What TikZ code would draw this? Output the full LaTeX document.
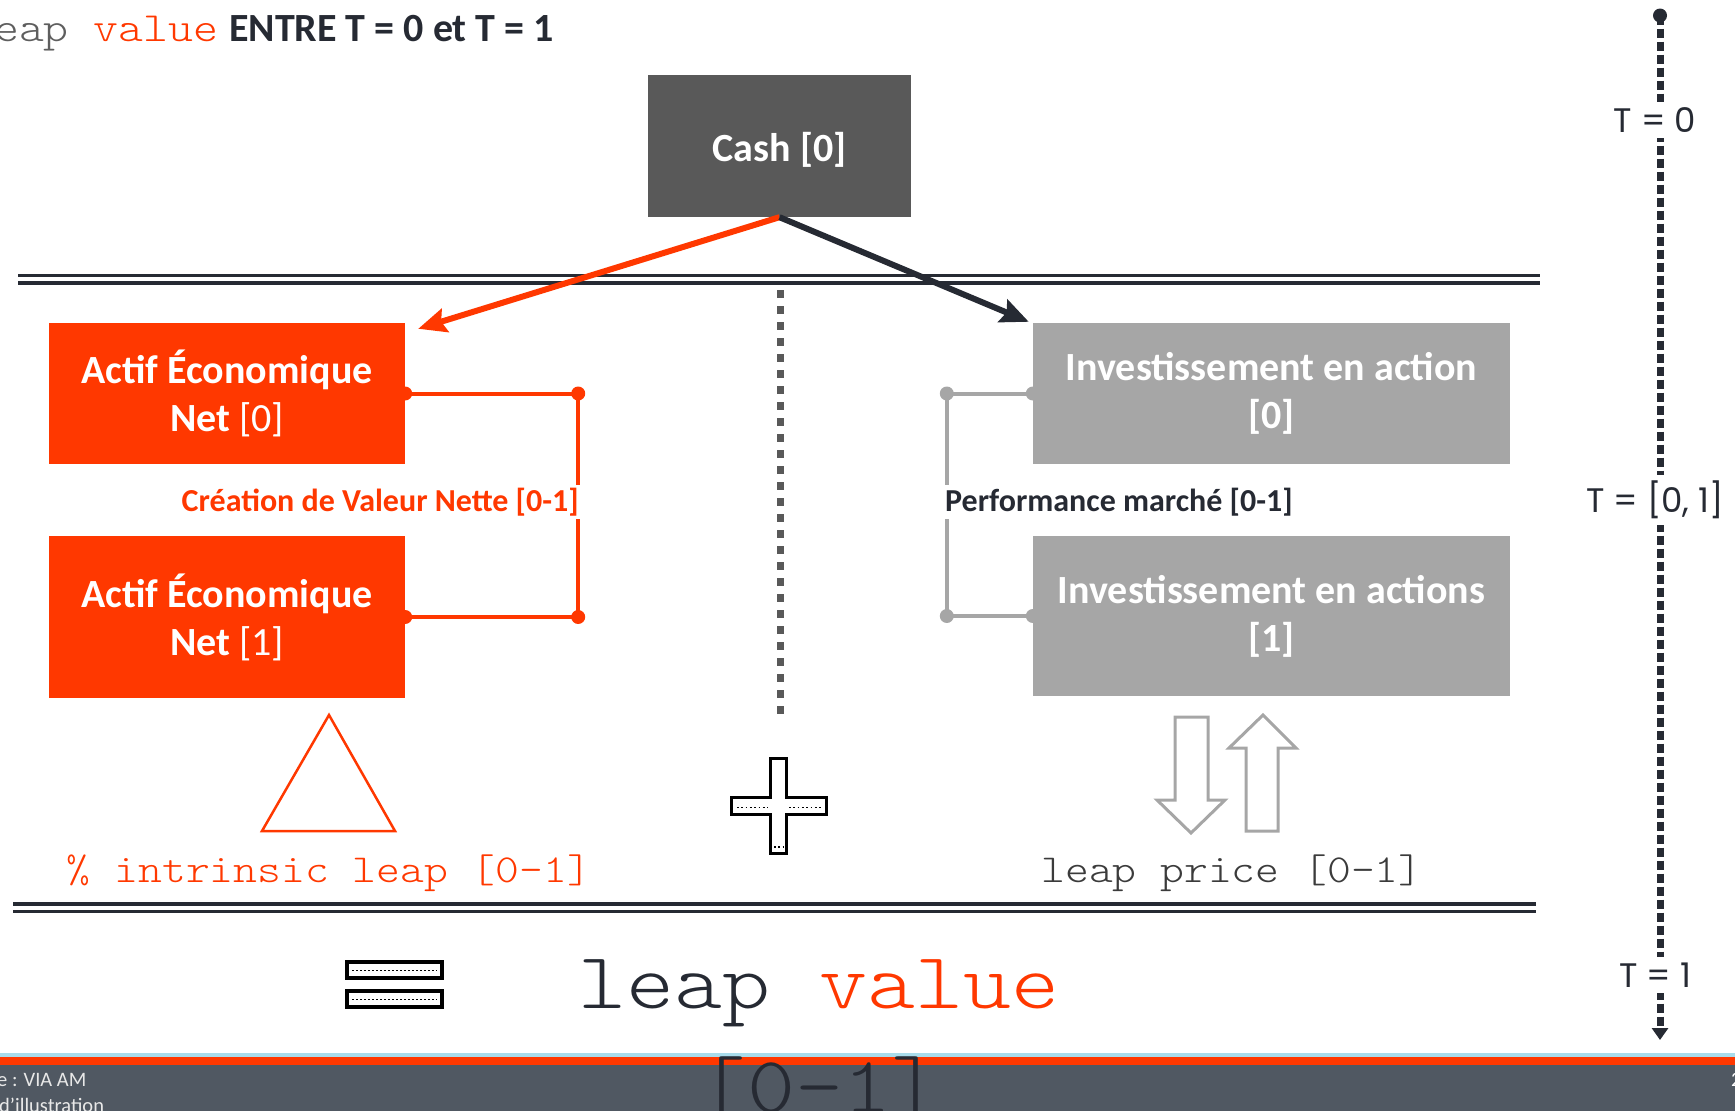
\documentclass[tikz,border=0pt]{standalone}
\usepackage{fontspec}
\usetikzlibrary{arrows.meta,calc}
\newfontfamily\calib{Carlito}
\newfontfamily\courl[FakeStretch=1.143]{lmmonolt10-regular.otf}
\newfontfamily\geo{Poppins}

\definecolor{vred}{HTML}{FF3800}
\definecolor{ink}{HTML}{262A33}
\definecolor{boxdark}{HTML}{595959}
\definecolor{boxgray}{HTML}{A6A6A6}
\definecolor{midgray}{HTML}{5E5E5E}
\definecolor{pricegray}{HTML}{3B3B3B}
\definecolor{barbg}{HTML}{505862}
\definecolor{barline}{HTML}{A8DCEB}
\definecolor{foottext}{HTML}{E8E8E8}

\tikzset{
  fillbox/.style={draw=none, inner sep=0pt, align=center, text=white,
    font=\calib\fontsize{40}{48}\selectfont},
  cashbox/.style={fillbox, fill=boxdark, minimum width=263pt, minimum height=142pt,
    text height=30pt, text depth=0pt},
  aebox/.style={fillbox, fill=vred, minimum width=356pt},
  iabox/.style={fillbox, fill=boxgray, minimum width=477pt},
  twin/.style={line width=3.5pt, draw=ink},
  dotcap/.style={circle, fill=#1, draw=none, inner sep=0pt, minimum size=14pt},
  bracket/.style={line width=4pt, draw=#1},
  bracketlabel/.style={fill=white, inner sep=3pt, font=\calib\bfseries\fontsize{32}{38}\selectfont},
  monotext/.style={inner sep=0pt, font=\courl\fontsize{39.7}{47}\selectfont},
  bigmono/.style={inner sep=0pt, font=\courl\fontsize{80}{96}\selectfont},
  tlabel/.style={fill=white, inner sep=6pt, text=ink, font=\geo\fontsize{34}{40}\selectfont},
  foot/.style={inner sep=0pt, text=foottext, font=\calib\fontsize{20.5}{25}\selectfont},
  flowarrow/.style={line width=6pt, -{Stealth[length=28pt,width=24pt,inset=4pt]}},
  hollow/.style={line width=3pt, draw=boxgray, line join=miter},
}

\begin{document}
\begin{tikzpicture}[x=1pt,y=-1pt]
\useasboundingbox (0,0) rectangle (1735,1111);

% footer band
\fill[barline] (0,1053) rectangle (1735,1056.5);
\fill[vred] (0,1056.5) rectangle (1735,1065);
\fill[barbg] (0,1065) rectangle (1735,1111);
\node[foot, anchor=base west] (src) at (-3,1086) {e : VIA AM};
\node[foot, anchor=base west] (ill) at (-1,1112) {d’illustration};
\node[foot, anchor=base west, text=white] (pg) at (1731,1086) {2};

% title
\node[inner sep=0pt, anchor=base west, font=\courl\fontsize{41.5}{50}\selectfont] (ttl)
  at (-31,41) {\textcolor{midgray}{leap} \textcolor{vred}{value}};
\node[inner sep=0pt, anchor=base west, text=ink, font=\calib\bfseries\fontsize{40}{48}\selectfont] (ttl2)
  at (229,41) {ENTRE T = 0 et T = 1};

% separators
\draw[twin] (18,275.5) -- (1540,275.5);
\draw[twin] (18,283) -- (1540,283);
\draw[twin] (13,904) -- (1536,904);
\draw[twin] (13,911.5) -- (1536,911.5);

% central dotted divider
\draw[boxdark, line width=7pt, dash pattern=on 8pt off 8pt] (780,290) -- (780,714);

% boxes
\node[cashbox] (cash) at (779.5,146) {\bfseries Cash [0]};
\node[aebox, minimum height=141pt] (ae0) at (227,393.5)
  {{\bfseries Actif Économique}\\{\bfseries Net} [0]};
\node[aebox, minimum height=162pt] (ae1) at (227,617)
  {{\bfseries Actif Économique}\\{\bfseries Net} [1]};
\node[iabox, minimum height=141pt] (ia0) at (1271.5,393.5)
  {{\bfseries Investissement en action}\\{\bfseries [0]}};
\node[iabox, minimum height=160pt] (ia1) at (1271.5,616)
  {{\bfseries Investissement en actions}\\{\bfseries [1]}};

% allocation arrows
\draw[flowarrow, vred] (cash.south) -- ([shift={(13,6)}]ae0.north east);
\draw[flowarrow, ink] (cash.south) -- ([shift={(-4,-1)}]ia0.north west);

% value creation bracket
\draw[bracket=vred] (ae0.east) -- ++(173,0) coordinate (ob0) |- (ae1.east) coordinate[pos=0.5] (ob1);
\foreach \p in {ae0.east, ob0, ob1, ae1.east} \fill[vred] (\p) circle[radius=7pt];
\node[bracketlabel, text=vred, anchor=base east] (cvn) at (582,511) {Création de Valeur Nette [0-1]};

% market performance bracket
\draw[bracket=boxgray] (ia0.west) -- ++(-86,0) coordinate (gb0) |- (ia1.west) coordinate[pos=0.5] (gb1);
\foreach \p in {ia0.west, gb0, gb1, ia1.west} \fill[boxgray] (\p) circle[radius=7pt];
\node[bracketlabel, text=ink, anchor=base west] (perf) at (942,511) {Performance marché [0-1]};

% triangle symbol
\draw[vred, line width=2.5pt, line join=miter] (329,715) -- (395,831) -- (262,831) -- cycle;

% plus symbol
\draw[line width=3pt, line join=miter] (770,758) -- (786,758) -- (786,797) -- (826,797) -- (826,814)
  -- (786,814) -- (786,853) -- (770,853) -- (770,814) -- (731,814) -- (731,797) -- (770,797) -- cycle;
\draw[line width=1.7pt, dash pattern=on 1.7pt off 2.6pt] (737,807.5) -- (768,807.5);
\draw[line width=1.7pt, dash pattern=on 1.7pt off 2.6pt] (789,807.5) -- (821,807.5);
\draw[line width=1.7pt, dash pattern=on 1.7pt off 2.6pt] (774,847) -- (783,847);

% up / down arrows
\draw[hollow] (1175,717) -- (1208,717) -- (1208,800) -- (1225,800) -- (1191,833) -- (1157,800) -- (1175,800) -- cycle;
\draw[hollow] (1263,715) -- (1296,748) -- (1278,748) -- (1278,831) -- (1246,831) -- (1246,748) -- (1229,748) -- cycle;

% labels under the columns
\node[monotext, text=vred, anchor=base] (intr) at (329,882) {\% intrinsic leap [0-1]};
\node[monotext, text=pricegray, anchor=base] (lprice) at (1232,882) {leap price [0-1]};

% equals symbol
\draw[line width=3.5pt] (347,962) rectangle (442,978);
\draw[line width=3.5pt] (347,991) rectangle (442,1007);
\draw[line width=1.6pt, dash pattern=on 1.6pt off 2.4pt] (352,970.5) -- (437,970.5);
\draw[line width=1.6pt, dash pattern=on 1.6pt off 2.4pt] (352,999.5) -- (437,999.5);

% result
\node[bigmono, anchor=base] (lv) at (819,1008) {\textcolor{ink}{leap} \textcolor{vred}{value}};
\node[bigmono, anchor=base, text=ink] (lvr) at (819,1112) {[0-1]};

% time axis
\node[dotcap=ink] (tstart) at (1660,15.5) {};
\coordinate (tend) at (1660,1040);
\draw[ink, line width=7pt, dash pattern=on 9pt off 4pt, -{Triangle[length=12pt,width=16pt]}] (tstart.center) -- (tend);
\node[tlabel] (tz) at (1655,120) {T = 0};
\node[tlabel] (tm) at (1655,500) {T = [0, 1]};
\node[tlabel] (to) at (1655,975) {T = 1};
\end{tikzpicture}
\end{document}
